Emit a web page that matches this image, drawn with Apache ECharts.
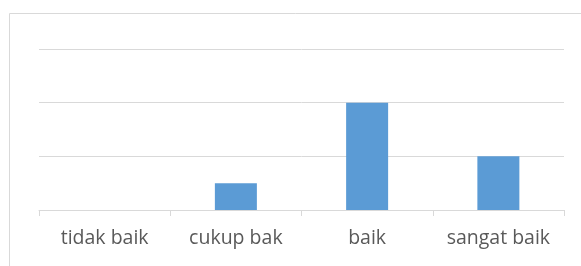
<!DOCTYPE html>
<html>
<head>
<meta charset="utf-8">
<script src="https://cdn.jsdelivr.net/npm/echarts@6/dist/echarts.min.js"></script>
<style>
  html, body { margin: 0; padding: 0; background: #fff; }
  #chart { width: 581px; height: 266px; }
</style>
</head>
<body>
<div id="chart"></div>
<script>
// kategori dan nilai
var categories = ['tidak baik', 'cukup bak', 'baik', 'sangat baik'];
var values = [0, 1, 4, 2];
var yMax = 6;
var yStep = 2;

var chart = echarts.init(document.getElementById('chart'));
chart.setOption({
    animation: false,
    graphic: [{
        type: 'rect',
        shape: { x: 9.5, y: 13.5, width: 600, height: 300 },
        style: { fill: 'none', stroke: '#d9d9d9', lineWidth: 1 },
        silent: true
    }],
    grid: { left: 39, right: 17, top: 49, bottom: 56 },
    xAxis: {
        type: 'category',
        data: categories,
        axisLine: { lineStyle: { color: '#d9d9d9', width: 1 } },
        axisTick: { show: true, interval: 0, length: 6, lineStyle: { color: '#d9d9d9' } },
        axisLabel: {
            interval: 0,
            hideOverlap: false,
            color: '#595959',
            fontSize: 19.5,
            fontFamily: 'Open Sans',
            margin: 18
        }
    },
    yAxis: {
        type: 'value',
        min: 0,
        max: yMax,
        interval: yStep,
        axisLabel: { show: false },
        axisLine: { show: false },
        axisTick: { show: false },
        splitLine: { lineStyle: { color: '#d9d9d9', width: 1 } }
    },
    series: [{
        type: 'bar',
        data: values,
        barWidth: '32%',
        itemStyle: { color: '#5b9bd5' }
    }]
});
</script>
</body>
</html>
